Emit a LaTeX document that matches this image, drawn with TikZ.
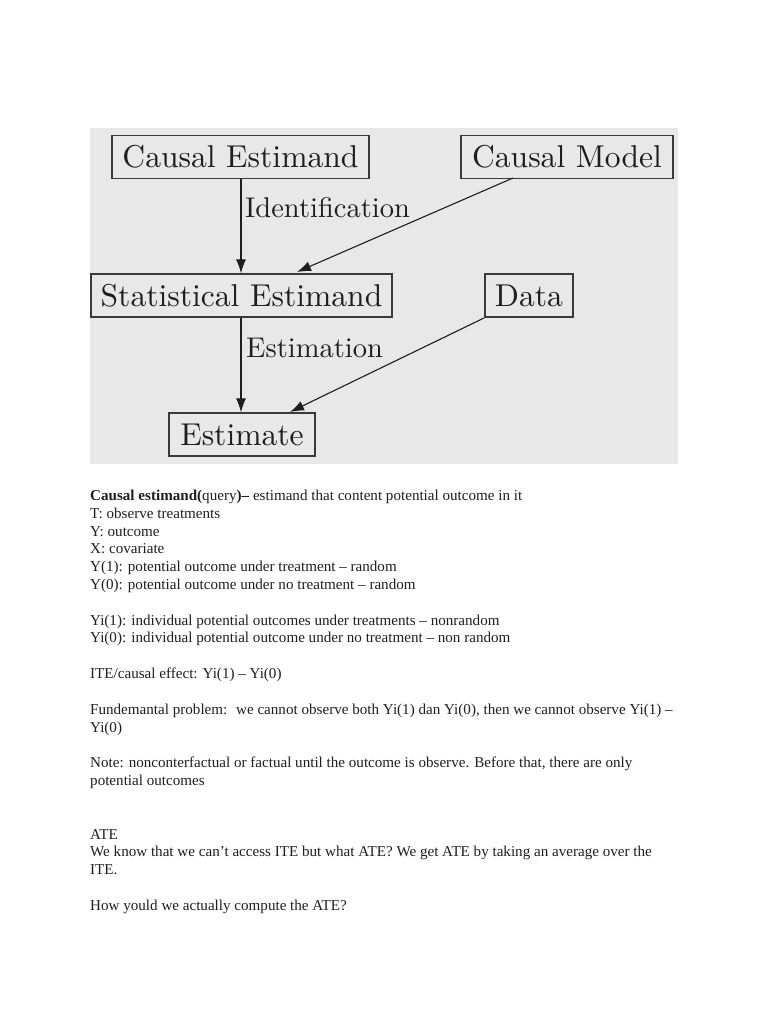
\documentclass[tikz,border=0pt]{standalone}
\usepackage{fontspec}
\setmainfont{Liberation Serif}
\newfontfamily\lmfont{lmroman10-regular.otf}
\usetikzlibrary{arrows.meta}
\definecolor{bggray}{HTML}{E8E8E8}
\definecolor{ink}{HTML}{1E1E1E}
\definecolor{boxline}{HTML}{3A3A3A}
\tikzset{
  boxnode/.style={draw=boxline, line width=1.3pt, rectangle, inner sep=0pt, font=\lmfont\fontsize{31.6}{35}\selectfont, text=ink},
  lbl/.style={font=\lmfont\fontsize{28.5}{32}\selectfont, text=ink, anchor=west, inner sep=0pt},
  conn/.style={draw=ink, line width=1.1pt, -{Latex[length=14pt,width=10pt]}},
  txt/.style={anchor=base west, inner sep=0pt, font=\fontsize{15.1}{17}\selectfont, text=black!88}
}
\begin{document}
\begin{tikzpicture}[x=1pt,y=-1pt]
\useasboundingbox (0,0) rectangle (768,1024);
\fill[white] (0,0) rectangle (768,1024);
\fill[bggray] (90,128) rectangle (678,464);
% boxes
\node[boxnode, minimum width=257pt, minimum height=43pt] (ce) at (240.5,157) {Causal Estimand};
\node[boxnode, minimum width=212pt, minimum height=43pt] (cm) at (567,157) {Causal Model};
\node[boxnode, minimum width=301pt, minimum height=43pt] (se) at (241.5,295.5) {Statistical Estimand};
\node[boxnode, minimum width=88pt, minimum height=43pt] (da) at (529,295.5) {Data};
\node[boxnode, minimum width=146pt, minimum height=43pt] (es) at (242,434.5) {Estimate};
% connectors
\coordinate (cmout) at (513,178);
\coordinate (sein) at (297,272);
\coordinate (daout) at (484,318);
\coordinate (esin) at (290,412);
\draw[conn] (ce.south -| 241,0) -- (se.north -| 241,0);
\draw[conn] (se.south -| 241,0) -- (es.north -| 241,0);
\draw[conn] (cmout) -- (sein);
\draw[conn] (daout) -- (esin);
\node[lbl] (idl) at (245,208) {Identification};
\node[lbl] (estl) at (246,348) {Estimation};
% text
\node[txt] (t1) at (90,500) {\textbf{Causal estimand(}query\textbf{)–} estimand that content potential outcome in it};
\node[txt] (t2) at (90,518) {T: observe treatments};
\node[txt] (t3) at (90,536) {Y: outcome};
\node[txt] (t4) at (90,553) {X: covariate};
\node[txt] (t5) at (90,571) {Y(1): potential outcome under treatment – random};
\node[txt] (t6) at (90,589) {Y(0): potential outcome under no treatment – random};
\node[txt] (t7) at (90,625) {Yi(1): individual potential outcomes under treatments – nonrandom};
\node[txt] (t8) at (90,642) {Yi(0): individual potential outcome under no treatment – non random};
\node[txt] (t9) at (90,678) {ITE/causal effect: Yi(1) – Yi(0)};
\node[txt] (t10) at (90,714) {Fundemantal problem: \ we cannot observe both Yi(1) dan Yi(0), then we cannot observe Yi(1) –};
\node[txt] (t11) at (90,732) {Yi(0)};
\node[txt] (t12) at (90,767) {Note: nonconterfactual or factual until the outcome is observe. Before that, there are only};
\node[txt] (t13) at (90,785) {potential outcomes};
\node[txt] (t14) at (90,839) {ATE};
\node[txt] (t15) at (90,856) {We know that we can’t access ITE but what ATE? We get ATE by taking an average over the};
\node[txt] (t16) at (90,874) {ITE.};
\node[txt] (t17) at (90,910) {How yould we actually compute the ATE?};
\end{tikzpicture}
\end{document}
